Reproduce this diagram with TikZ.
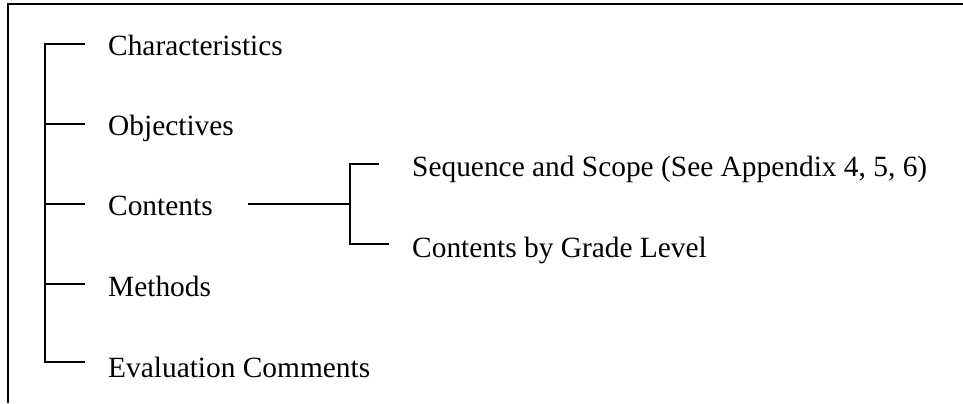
\documentclass[tikz,border=0pt]{standalone}
\usepackage{fontspec}
\setmainfont{Liberation Serif}
\begin{document}
\begin{tikzpicture}[x=1bp,y=-1bp,
  lbl/.style={anchor=base west,inner sep=0pt,font=\fontsize{29.5}{35}\selectfont},
  tree/.style={line width=1.6bp},
  frame/.style={line width=2bp}]
\useasboundingbox (0,0) rectangle (963,403);
% frame (top and left only)
\coordinate (fbl) at (8,403);
\coordinate (ftl) at (8,4);
\coordinate (ftr) at (963,4);
\draw[frame] (fbl) -- (ftl) -- (ftr);
% labels
\node[lbl] (ch) at (108,55) {Characteristics};
\node[lbl] (ob) at (108,135) {Objectives};
\node[lbl] (co) at (108,215) {Contents};
\node[lbl] (me) at (108,296) {Methods};
\node[lbl] (ev) at (108,377) {Evaluation Comments};
\node[lbl] (sq) at (412,176) {Sequence and Scope (See Appendix 4, 5, 6)};
\node[lbl] (gl) at (412,257) {Contents by Grade Level};
% main tree
\coordinate (t1) at (45,44);  \coordinate (e1) at (85,44);
\coordinate (t2) at (45,124); \coordinate (e2) at (85,124);
\coordinate (t3) at (45,204); \coordinate (e3) at (85,204);
\coordinate (t4) at (45,284); \coordinate (e4) at (85,284);
\coordinate (t5) at (45,362); \coordinate (e5) at (85,362);
\draw[tree] (e1) -- (t1) -- (t5) -- (e5);
\draw[tree] (t2) -- (e2);
\draw[tree] (t3) -- (e3);
\draw[tree] (t4) -- (e4);
% sub tree
\coordinate (cs) at (248,204);
\coordinate (cj) at (350,204);
\coordinate (su) at (350,164); \coordinate (sue) at (379,164);
\coordinate (sl) at (350,244); \coordinate (sle) at (389,244);
\draw[tree] (cs) -- (cj);
\draw[tree] (sue) -- (su) -- (sl) -- (sle);
\end{tikzpicture}
\end{document}
